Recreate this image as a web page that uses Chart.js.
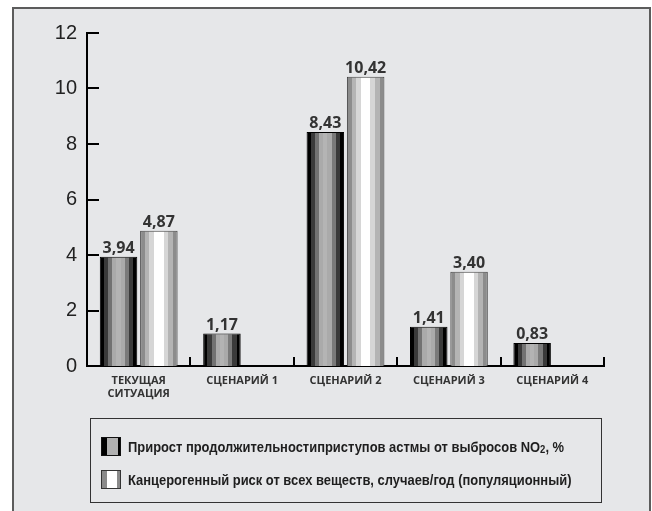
<!DOCTYPE html>
<html lang="ru">
<head>
<meta charset="utf-8">
<title>Сценарии: астма и канцерогенный риск</title>
<script src="https://cdn.jsdelivr.net/npm/chart.js@4.4.1/dist/chart.umd.min.js"></script>
<style>
  html, body { margin: 0; padding: 0; background: #fff; }
  body { width: 652px; height: 511px; position: relative; overflow: hidden; }
  #frame {
    position: absolute; left: 12px; top: 7px; width: 635px; height: 520px;
    background: #e6e7e9; border: 2px solid #5c5c5c; border-bottom: none;
  }
  #wrap { position: absolute; left: 0; top: 0; width: 652px; height: 511px; }
  #legend {
    position: absolute; left: 90px; top: 418px; width: 510px; height: 83px;
    border: 1px solid #333; box-sizing: content-box;
    font-family: "Liberation Sans", Arial, sans-serif;
    font-weight: bold; font-size: 15px; color: #1e1e1e;
  }
  .item { position: absolute; left: 10px; height: 20px; display: flex; align-items: center; white-space: nowrap; }
  .txt { display: inline-block; transform-origin: 0 50%; }
  .sw { width: 18px; height: 17px; border: 1.5px solid #111; margin-right: 7px; flex: none; }
  .sw.dark { background: linear-gradient(90deg, #000 0 28%, #b0b0b0 28% 88%, #000 88% 100%); }
  .sw.light { border-color: #333; background: linear-gradient(90deg, #8a8a8a 0 26%, #fff 26% 86%, #8a8a8a 86% 100%); }
  sub { font-size: 11px; vertical-align: -1px; }
</style>
</head>
<body>
<div id="frame"></div>
<div id="wrap"><canvas id="chart" width="652" height="511"></canvas></div>
<div id="legend">
  <div class="item" style="top:17px"><span class="sw dark"></span><span class="txt" id="lg1">Прирост продолжительностиприступов астмы от выбросов NO<sub>2</sub>, %</span></div>
  <div class="item" style="top:50px"><span class="sw light"></span><span class="txt" id="lg2">Канцерогенный риск от всех веществ, случаев/год (популяционный)</span></div>
</div>
<script>
// Scenario categories and the two indicators
const categories = [['ТЕКУЩАЯ', 'СИТУАЦИЯ'], 'СЦЕНАРИЙ 1', 'СЦЕНАРИЙ 2', 'СЦЕНАРИЙ 3', 'СЦЕНАРИЙ 4'];
const asthmaIncrease = [3.94, 1.17, 8.43, 1.41, 0.83];
const cancerRisk = [4.87, null, 10.42, 3.40, null];
const yTicks = [0, 2, 4, 6, 8, 10, 12];

// Vertical stripe palettes for the cylinder-like bars
const darkStripes = ['#000000', '#3a3a3a', '#727272', '#aaaaaa', '#b4b4b4', '#aaaaaa', '#7a7a7a', '#3a3a3a', '#000000'];
const lightStripes = ['#8c8c8c', '#b4b4b4', '#d6d6d6', '#ffffff', '#ffffff', '#d6d6d6', '#b4b4b4', '#8c8c8c'];

// Condensed look for the legend captions
(function condenseLegend() {
  const a = document.getElementById('lg1');
  const b = document.getElementById('lg2');
  const k = 436 / a.getBoundingClientRect().width;
  a.style.transform = b.style.transform = 'scaleX(' + k.toFixed(3) + ')';
})();

function stripeFill(ctx, colors) {
  const chart = ctx.chart;
  const el = chart.getDatasetMeta(ctx.datasetIndex).data[ctx.dataIndex];
  if (!el || !el.width) return colors[Math.floor(colors.length / 2)];
  const x0 = el.x - el.width / 2, x1 = el.x + el.width / 2;
  const g = chart.ctx.createLinearGradient(x0, 0, x1, 0);
  const n = colors.length;
  colors.forEach((c, i) => { g.addColorStop(i / n, c); g.addColorStop((i + 1) / n, c); });
  return g;
}

const fmt = v => v.toFixed(2).replace('.', ',');

// Inward axis ticks, category separators and value labels
const decorations = {
  id: 'decorations',
  afterDatasetsDraw(chart) {
    const { ctx, chartArea, scales: { x, y } } = chart;
    ctx.save();
    ctx.strokeStyle = '#000';
    ctx.lineWidth = 2;
    y.ticks.forEach(t => {
      const py = Math.round(y.getPixelForValue(t.value));
      ctx.beginPath();
      ctx.moveTo(chartArea.left - 1, py);
      ctx.lineTo(chartArea.left + 12, py);
      ctx.stroke();
    });
    for (let i = 1; i <= categories.length; i++) {
      const px = Math.round(x.getPixelForValue(i - 0.5));
      ctx.beginPath();
      ctx.moveTo(px, chartArea.bottom);
      ctx.lineTo(px, chartArea.bottom - 9);
      ctx.stroke();
    }
    ctx.fillStyle = '#333';
    ctx.font = 'bold 16px "Open Sans", "DejaVu Sans", sans-serif';
    ctx.textAlign = 'center';
    ctx.textBaseline = 'alphabetic';
    chart.data.datasets.forEach((ds, di) => {
      chart.getDatasetMeta(di).data.forEach((el, i) => {
        const v = ds.data[i];
        if (v === null || v === undefined) return;
        ctx.fillText(fmt(v), el.x, el.y - 4);
      });
    });
    ctx.restore();
  }
};

const chart = new Chart(document.getElementById('chart'), {
  type: 'bar',
  data: {
    labels: categories,
    datasets: [
      {
        label: 'Прирост продолжительностиприступов астмы от выбросов NO2, %',
        data: asthmaIncrease,
        backgroundColor: ctx => stripeFill(ctx, darkStripes),
        borderColor: '#000',
        borderWidth: 1,
        categoryPercentage: 0.78,
        barPercentage: 0.93
      },
      {
        label: 'Канцерогенный риск от всех веществ, случаев/год (популяционный)',
        data: cancerRisk,
        backgroundColor: ctx => stripeFill(ctx, lightStripes),
        borderColor: '#444',
        borderWidth: 1,
        categoryPercentage: 0.78,
        barPercentage: 0.93
      }
    ]
  },
  options: {
    responsive: false,
    animation: false,
    events: [],
    layout: { padding: { top: 33, right: 48, bottom: 0, left: 0 } },
    plugins: { legend: { display: false }, tooltip: { enabled: false } },
    scales: {
      x: {
        grid: { display: false, drawTicks: false },
        border: { display: true, color: '#000', width: 2 },
        ticks: {
          color: '#333',
          padding: 8,
          maxRotation: 0,
          autoSkip: false,
          font: { family: '"Open Sans", "DejaVu Sans", sans-serif', weight: 'bold', size: 11, lineHeight: 1.2 }
        },
        afterFit: s => { s.height = 145; }
      },
      y: {
        min: 0,
        max: 12,
        afterBuildTicks: s => { s.ticks = yTicks.map(v => ({ value: v })); },
        grid: { display: false, drawTicks: false },
        border: { display: true, color: '#000', width: 2 },
        ticks: {
          color: '#222',
          padding: 10,
          font: { family: '"Liberation Sans", Arial, sans-serif', size: 20 }
        },
        afterFit: s => { s.width = 87; }
      }
    }
  },
  plugins: [decorations]
});
// second pass so the stripe gradients can use the laid-out bar geometry
chart.update('none');
</script>
</body>
</html>
